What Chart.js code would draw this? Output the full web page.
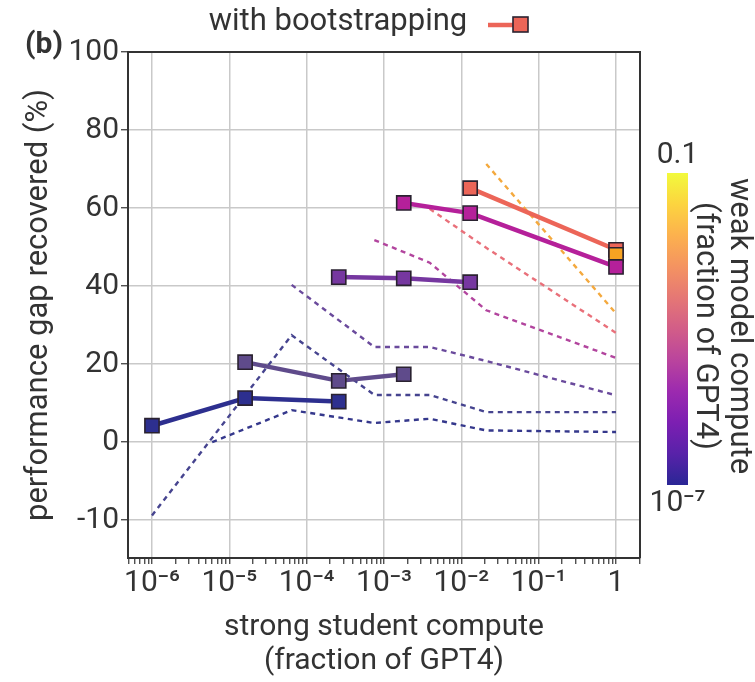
<!DOCTYPE html>
<html><head><meta charset="utf-8">
<script src="https://cdn.jsdelivr.net/npm/chart.js@4.4.1/dist/chart.umd.min.js"></script>
<style>html,body{margin:0;padding:0;background:#fff}#wrap{width:755px;height:682px;position:relative}</style>
</head><body><div id="wrap"><canvas id="c"></canvas></div>
<script>
// ---------------- data ----------------
const X_TICK_VALUES = [1e-6, 1e-5, 1e-4, 1e-3, 1e-2, 1e-1, 1];
const X_TICK_LABELS = ['10⁻⁶', '10⁻⁵', '10⁻⁴', '10⁻³', '10⁻²', '10⁻¹', '1'];
const Y_TICK_VALUES = [-10, 0, 20, 40, 60, 80, 100];
const COLORBAR_TOP_LABEL = '0.1';
const COLORBAR_BOTTOM_LABEL = '10⁻⁷';

// with bootstrapping (solid lines, square markers)
const BOOT1_X = [1e-6, 1.6e-5, 2.6e-4];
const BOOT1_Y = [4.2, 11.3, 10.4];
const BOOT2_X = [1.6e-5, 2.6e-4, 1.8e-3];
const BOOT2_Y = [20.5, 15.7, 17.4];
const BOOT3_X = [2.6e-4, 1.8e-3, 1.3e-2];
const BOOT3_Y = [42.3, 42.0, 41.0];
const BOOT4_X = [1.8e-3, 1.3e-2, 1];
const BOOT4_Y = [61.3, 58.7, 44.9];
const BOOT5_X = [1.3e-2, 1];
const BOOT5_Y = [65.1, 49.3];
const BOOT6_X = [1];
const BOOT6_Y = [48.0];

// without bootstrapping (dashed lines)
const NAIVE1_X = [1e-6, 6.4e-5, 7.5e-4, 3.9e-3, 2.1e-2, 1];
const NAIVE1_Y = [-9.4, 27.4, 12.1, 12.1, 7.7, 7.7];
const NAIVE2_X = [6e-6, 6.4e-5, 7.5e-4, 3.9e-3, 2.1e-2, 1];
const NAIVE2_Y = [0.0, 8.2, 4.9, 6.0, 3.0, 2.6];
const NAIVE3_X = [6.4e-5, 7.5e-4, 3.9e-3, 2.1e-2, 1];
const NAIVE3_Y = [40.3, 24.4, 24.4, 20.8, 12.0];
const NAIVE4_X = [7.5e-4, 3.9e-3, 2.1e-2, 1];
const NAIVE4_Y = [51.8, 46.0, 33.8, 21.6];
const NAIVE5_X = [3.9e-3, 2.1e-2, 1];
const NAIVE5_Y = [59.8, 49.8, 28.0];
const NAIVE6_X = [2.1e-2, 1];
const NAIVE6_Y = [71.3, 33.0];

// ---------------- style ----------------
const FONT = 'Roboto';
const TXT = '#333333';
const GRID = '#c9c9c9';
const X_MIN = Math.pow(10, -6.31), X_MAX = Math.pow(10, 0.31);
const Y_MIN = -14.85, Y_MAX = 100;
const NEG_STRETCH = 2; // the axis below 0 is drawn twice as tall per unit

const C_BOOT = ['#2d2f8f', '#5f4b8b', '#7637a0', '#b5209a', '#ec6558', '#f7a322'];
const C_NAIVE = ['#46448f', '#35388c', '#6a4a9c', '#b2459e', '#e9707a', '#f4a93e'];

// custom split linear scale
class SplitLinearScale extends Chart.LinearScale {
  _t(v) { return v < 0 ? v * NEG_STRETCH : v; }
  _inv(t) { return t < 0 ? t / NEG_STRETCH : t; }
  getPixelForValue(value) {
    if (value === null || value === undefined || isNaN(value)) return NaN;
    const a = this._t(this.min), b = this._t(this.max);
    return this.getPixelForDecimal((this._t(value) - a) / (b - a));
  }
  getValueForPixel(pixel) {
    const a = this._t(this.min), b = this._t(this.max);
    return this._inv(a + this.getDecimalForPixel(pixel) * (b - a));
  }
}
SplitLinearScale.id = 'splitLinear';
SplitLinearScale.defaults = Chart.LinearScale.defaults;
Chart.register(SplitLinearScale);

const pts = (xs, ys) => xs.map((x, i) => ({x: x, y: ys[i]}));
function solid(xs, ys, color, order) {
  return {data: pts(xs, ys), borderColor: color, backgroundColor: color,
    pointBackgroundColor: color, pointBorderColor: '#2a2230', pointBorderWidth: 1.6,
    pointStyle: 'rect', pointRadius: 10, pointHoverRadius: 10, borderWidth: 4.5,
    borderJoinStyle: 'round', order: order, tension: 0, clip: false};
}
function dashed(xs, ys, color) {
  return {data: pts(xs, ys), borderColor: color, backgroundColor: color,
    borderWidth: 2.4, borderDash: [5, 4.5], pointRadius: 0, pointHoverRadius: 0,
    order: 20, tension: 0};
}

function buildLogTicks(min, max) {
  const out = [];
  for (let e = Math.floor(Math.log10(min)); e <= Math.ceil(Math.log10(max)); e++) {
    for (let m = 1; m <= 9; m++) {
      const v = m * Math.pow(10, e);
      if (v >= min * 0.9999 && v <= max * 1.0001) out.push({value: v, major: m === 1});
    }
  }
  return out;
}

const decor = {
  id: 'decor',
  afterDraw(chart) {
    const ctx = chart.ctx, a = chart.chartArea;
    ctx.save();
    // frame top/right
    ctx.strokeStyle = TXT; ctx.lineWidth = 2;
    ctx.beginPath();
    ctx.moveTo(a.left, a.top); ctx.lineTo(a.right, a.top); ctx.lineTo(a.right, a.bottom);
    ctx.stroke();
    // panel label
    ctx.fillStyle = TXT;
    ctx.font = 'bold 30px ' + FONT;
    ctx.textAlign = 'right'; ctx.textBaseline = 'middle';
    ctx.fillText('(b)', 63, 45);
    // legend
    ctx.font = '31px ' + FONT; ctx.textAlign = 'center';
    ctx.fillText('with bootstrapping', 338, 22);
    ctx.strokeStyle = C_BOOT[4]; ctx.lineWidth = 4.5;
    ctx.beginPath(); ctx.moveTo(488, 25); ctx.lineTo(520, 25); ctx.stroke();
    ctx.fillStyle = C_BOOT[4]; ctx.strokeStyle = '#2a2230'; ctx.lineWidth = 1.6;
    ctx.fillRect(513, 17, 15, 15); ctx.strokeRect(513, 17, 15, 15);
    // colorbar
    const cbx = 667, cbt = 173, cbw = 21, cbb = 485;
    const g = ctx.createLinearGradient(0, cbb, 0, cbt);
    const plasma = ['#0d0887','#41049d','#6a00a8','#8f0da4','#b12a90','#cc4778','#e16462','#f2844b','#fca636','#fcce25','#f0f921'];
    plasma.forEach((c, i) => {
      const r = parseInt(c.slice(1,3),16), gg = parseInt(c.slice(3,5),16), b = parseInt(c.slice(5,7),16);
      const f = 0.12;
      g.addColorStop(i / 10, `rgb(${Math.round(r+(255-r)*f)},${Math.round(gg+(255-gg)*f)},${Math.round(b+(255-b)*f)})`);
    });
    ctx.fillStyle = g; ctx.fillRect(cbx, cbt, cbw, cbb - cbt);
    ctx.fillStyle = TXT; ctx.font = '30px ' + FONT; ctx.textAlign = 'center'; ctx.textBaseline = 'middle';
    ctx.fillText(COLORBAR_TOP_LABEL, cbx + cbw / 2, 155);
    ctx.fillText(COLORBAR_BOTTOM_LABEL, cbx + cbw / 2, 503);
    ctx.font = '31px ' + FONT;
    ctx.save(); ctx.translate(739, 326); ctx.rotate(Math.PI / 2);
    ctx.fillText('weak model compute', 0, 0); ctx.restore();
    ctx.save(); ctx.translate(705, 326); ctx.rotate(Math.PI / 2);
    ctx.fillText('(fraction of GPT4)', 0, 0); ctx.restore();
    ctx.restore();
  }
};

new Chart(document.getElementById('c'), {
  type: 'line',
  data: {
    datasets: [
      dashed(NAIVE1_X, NAIVE1_Y, C_NAIVE[0]),
      dashed(NAIVE2_X, NAIVE2_Y, C_NAIVE[1]),
      dashed(NAIVE3_X, NAIVE3_Y, C_NAIVE[2]),
      dashed(NAIVE4_X, NAIVE4_Y, C_NAIVE[3]),
      dashed(NAIVE5_X, NAIVE5_Y, C_NAIVE[4]),
      dashed(NAIVE6_X, NAIVE6_Y, C_NAIVE[5]),
      solid(BOOT1_X, BOOT1_Y, C_BOOT[0], 5),
      solid(BOOT2_X, BOOT2_Y, C_BOOT[1], 5),
      solid(BOOT3_X, BOOT3_Y, C_BOOT[2], 5),
      solid(BOOT5_X, BOOT5_Y, C_BOOT[4], 4),
      solid(BOOT6_X, BOOT6_Y, C_BOOT[5], 3),
      solid(BOOT4_X, BOOT4_Y, C_BOOT[3], 1)
    ]
  },
  options: {
    responsive: true, maintainAspectRatio: false, animation: false,
    devicePixelRatio: 1,
    layout: {padding: {top: 52, right: 115, left: 0, bottom: 0}},
    plugins: {legend: {display: false}, tooltip: {enabled: false}},
    events: [],
    scales: {
      x: {
        type: 'logarithmic', min: X_MIN, max: X_MAX, bounds: 'data',
        afterBuildTicks: s => { s.ticks = buildLogTicks(s.min, s.max); },
        afterFit: s => { s.height = 124; },
        ticks: {
          autoSkip: false, maxRotation: 0, minRotation: 0, color: TXT, padding: 1,
          font: {family: FONT, size: 30},
          major: {enabled: false},
          callback: (v) => {
            const k = X_TICK_VALUES.findIndex(t => Math.abs(Math.log10(t) - Math.log10(v)) < 1e-6);
            return k >= 0 ? X_TICK_LABELS[k] : '';
          }
        },
        grid: {
          color: c => (c.tick && c.tick.major) ? GRID : 'rgba(0,0,0,0)',
          lineWidth: 1.5, tickColor: TXT, tickLength: 6, tickWidth: 1.2
        },
        border: {display: true, color: TXT, width: 2},
        title: {display: true, text: ['strong student compute', '(fraction of GPT4)'],
          color: TXT, font: {family: FONT, size: 30, lineHeight: 1.12}, padding: {top: 0, bottom: 4}}
      },
      y: {
        type: 'splitLinear', min: Y_MIN, max: Y_MAX, bounds: 'data',
        afterBuildTicks: s => { s.ticks = Y_TICK_VALUES.map(v => ({value: v})); },
        afterFit: s => { s.width = 128; },
        ticks: {color: TXT, padding: 2, font: {family: FONT, size: 30}, callback: v => String(v)},
        grid: {color: GRID, lineWidth: 1.5, tickColor: TXT, tickLength: 7, tickWidth: 1.2},
        border: {display: true, color: TXT, width: 2},
        title: {display: true, text: 'performance gap recovered (%)', color: TXT,
          font: {family: FONT, size: 31}, padding: {top: 21, bottom: 0}}
      }
    }
  },
  plugins: [decor]
});
</script>
</body></html>
